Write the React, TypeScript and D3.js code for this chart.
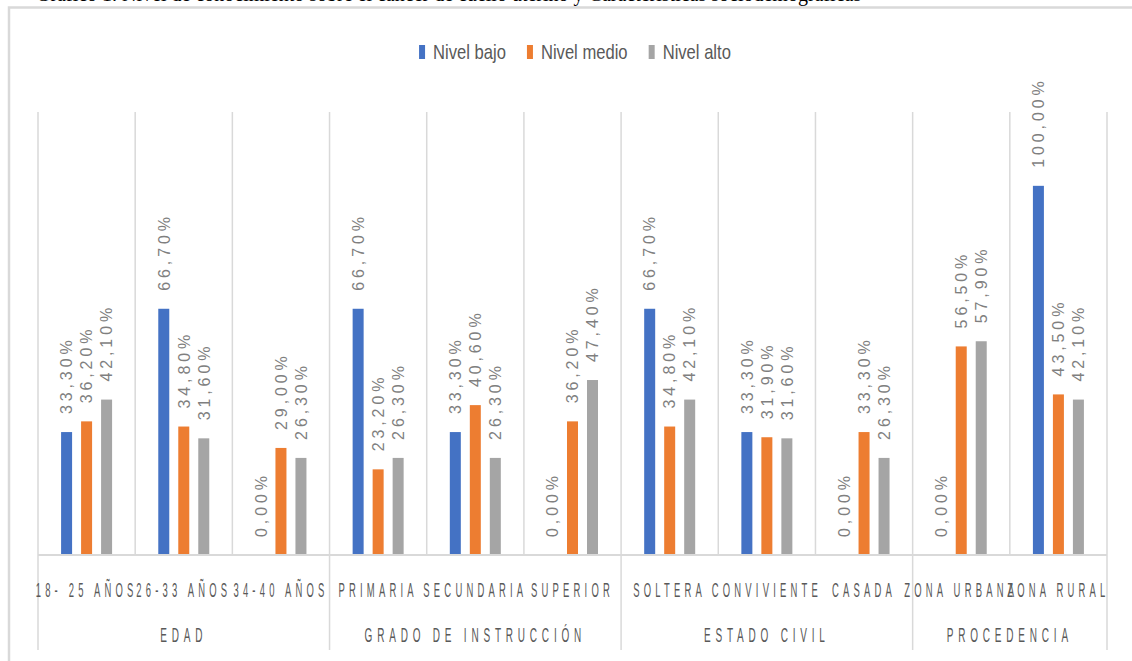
import React from "react";
import * as d3 from "d3";

const groups = ["EDAD", "GRADO DE INSTRUCCIÓN", "ESTADO CIVIL", "PROCEDENCIA"];
const categories = [
  "18- 25 AÑOS", "26-33 AÑOS", "34-40 AÑOS",
  "PRIMARIA", "SECUNDARIA", "SUPERIOR",
  "SOLTERA", "CONVIVIENTE", "CASADA",
  "ZONA URBANA", "ZONA RURAL",
];
const categoryGroup = [0, 0, 0, 1, 1, 1, 2, 2, 2, 3, 3];
const seriesNames = ["Nivel bajo", "Nivel medio", "Nivel alto"];
const nivelBajo = [33.3, 66.7, 0, 66.7, 33.3, 0, 66.7, 33.3, 0, 0, 100];
const nivelMedio = [36.2, 34.8, 29.0, 23.2, 40.6, 36.2, 34.8, 31.9, 33.3, 56.5, 43.5];
const nivelAlto = [42.1, 31.6, 26.3, 26.3, 26.3, 47.4, 42.1, 31.6, 26.3, 57.9, 42.1];
const seriesValues = [nivelBajo, nivelMedio, nivelAlto];
const colors = ["#4472C4", "#ED7D31", "#A5A5A5"];
const yMax = 120;
const caption = "Gráfico 1. Nivel de conocimiento sobre el cáncer de cuello uterino y Características sociodemográficas";

const W = 1132;
const H = 661;
const plot = { left: 38, right: 1107, top: 112, bottom: 555 };
const GRID = "#d9d9d9";
const FONT = "'Liberation Sans', Arial, sans-serif";

function fmt(v: number) {
  return v.toFixed(2).replace(".", ",") + "%";
}

function measure(text: string, font: string) {
  if (typeof document === "undefined") return text.length * 9;
  const c = document.createElement("canvas");
  const ctx = c.getContext("2d");
  if (!ctx) return text.length * 9;
  ctx.font = font;
  return ctx.measureText(text).width;
}

export default function App() {
  const x = d3.scaleBand<string>().domain(categories).range([plot.left, plot.right]).padding(0);
  const bw = x.bandwidth();
  const inner = d3
    .scaleBand<string>()
    .domain(seriesNames)
    .range([bw / 2 - 25.5, bw / 2 + 25.5])
    .paddingInner(0.45)
    .paddingOuter(0);
  const y = d3.scaleLinear().domain([0, yMax]).range([plot.bottom, plot.top]);

  const groupIdx = groups.map((_, g) => {
    const idx = categoryGroup.map((cg, i) => (cg === g ? i : -1)).filter((i) => i >= 0);
    return { first: idx[0], last: idx[idx.length - 1] };
  });
  const groupEdges: number[] = [plot.left];
  groupIdx.forEach((gi) => groupEdges.push((x(categories[gi.last]) as number) + bw));

  const legSx = 0.83;
  const legFont = `20px ${FONT}`;
  const sw = 6;
  const swGap = 8;
  const itemGap = 21;
  const widths = seriesNames.map((s) => measure(s, legFont) * legSx);
  const total = widths.reduce((a, b) => a + b + sw + swGap, 0) + itemGap * (seriesNames.length - 1);
  let lx = 575 - total / 2;
  const legendItems = seriesNames.map((s, i) => {
    const item = { name: s, x: lx, color: colors[i], w: widths[i] };
    lx += sw + swGap + widths[i] + itemGap;
    return item;
  });

  const catSx = 0.45;
  const catLs = 4.2 / catSx;

  return (
    <svg
      width={W}
      height={H}
      style={{ position: "absolute", left: 0, top: 0, background: "#fff" }}
    >
      <rect x={0} y={0} width={W} height={H} fill="#fff" />
      <text x={36} y={1} fontFamily="'Liberation Serif', 'Times New Roman', serif" fontSize={20} fill="#000">
        {caption}
      </text>
      <rect x={9} y={7.5} width={W + 50} height={H + 50} fill="#fff" stroke={GRID} strokeWidth={2.5} />

      {legendItems.map((it) => (
        <g key={it.name}>
          <rect x={it.x} y={45} width={sw} height={14} fill={it.color} />
          <text
            transform={`translate(${it.x + sw + swGap},59) scale(${legSx},1)`}
            fontFamily={FONT}
            fontSize={20}
            fill="#595959"
          >
            {it.name}
          </text>
        </g>
      ))}

      {categories.map((c) => (
        <line
          key={"g" + c}
          x1={x(c)}
          x2={x(c)}
          y1={plot.top}
          y2={plot.bottom}
          stroke={GRID}
          strokeWidth={1.5}
        />
      ))}
      <line x1={plot.right} x2={plot.right} y1={plot.top} y2={plot.bottom} stroke={GRID} strokeWidth={1.5} />

      {groupEdges.map((gx, i) => (
        <line key={"ge" + i} x1={gx} x2={gx} y1={plot.bottom} y2={650} stroke={GRID} strokeWidth={1.5} />
      ))}

      {seriesValues.map((vals, si) =>
        vals.map((v, ci) => {
          const bx = (x(categories[ci]) as number) + (inner(seriesNames[si]) as number);
          return (
            <rect
              key={`b${si}-${ci}`}
              x={bx}
              y={y(v)}
              width={inner.bandwidth()}
              height={plot.bottom - y(v)}
              fill={colors[si]}
            />
          );
        })
      )}

      <line x1={plot.left} x2={plot.right} y1={plot.bottom} y2={plot.bottom} stroke={GRID} strokeWidth={2} />

      {seriesValues.map((vals, si) =>
        vals.map((v, ci) => {
          const cx = (x(categories[ci]) as number) + (inner(seriesNames[si]) as number) + inner.bandwidth() / 2;
          return (
            <text
              key={`l${si}-${ci}`}
              transform={`translate(${cx + 5.8},${y(v) - 18}) rotate(-90)`}
              fontFamily={FONT}
              fontSize={16}
              letterSpacing={3.9}
              fill="#7f7f7f"
            >
              {fmt(v)}
            </text>
          );
        })
      )}

      {categories.map((c) => (
        <text
          key={"c" + c}
          transform={`translate(${(x(c) as number) + bw / 2},597) scale(${catSx},1)`}
          textAnchor="middle"
          fontFamily={FONT}
          fontSize={21}
          letterSpacing={catLs}
          fill="#595959"
        >
          {c}
        </text>
      ))}

      {groups.map((g, i) => (
        <text
          key={"gl" + g}
          transform={`translate(${(groupEdges[i] + groupEdges[i + 1]) / 2},642) scale(0.5,1)`}
          textAnchor="middle"
          fontFamily={FONT}
          fontSize={20}
          letterSpacing={9.6}
          fill="#595959"
        >
          {g}
        </text>
      ))}
    </svg>
  );
}
